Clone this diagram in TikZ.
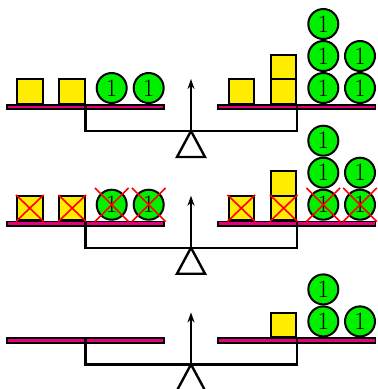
\documentclass[tikz,border=0pt]{standalone}
\usetikzlibrary{arrows.meta,shapes.misc,positioning}
\definecolor{panpink}{RGB}{230,0,126}
\definecolor{wtyellow}{RGB}{255,236,0}
\definecolor{wtgreen}{RGB}{0,240,0}

\begin{document}
\begin{tikzpicture}[x=1pt, y=-1pt,
pan/.style={draw, line width=1.8pt, fill=panpink, minimum width=157.5pt, minimum height=4.5pt, inner sep=0pt},
box/.style={draw, line width=2pt, fill=wtyellow, minimum width=25.5pt, minimum height=24.5pt, inner sep=0pt, outer sep=0pt},
unit/.style={draw, circle, line width=2pt, fill=wtgreen, minimum size=30pt, inner sep=0pt, font=\fontsize{25}{25}\selectfont},
beam/.style={line width=2.4pt},
crossed/.style={cross out, draw=red, line width=1.6pt, inner sep=0pt}]

\useasboundingbox (0,0) rectangle (378,389);

% the three balances
\foreach \n/\dy in {1/0, 2/116.7, 3/233.4} {
  \coordinate (piv\n) at (191,131+\dy);
  \node[pan] (lp\n) at (85.5,107+\dy) {};
  \node[pan] (rp\n) at (296.7,107+\dy) {};
  \draw[beam] (lp\n.north) |- (piv\n) -| (rp\n.north);
  \draw[beam] (piv\n) -- ++(-14,26) -- ++(28,0) -- cycle;
  \draw[beam, -{Stealth[length=10pt,width=7pt]}] (piv\n) -- ++(0,-52);
}

% weights, first and second balance
\foreach \n/\dy in {1/0, 2/116.7} {
  \node[box] (la\n) at (29.8,91.5+\dy) {};
  \node[box] (lb\n) at (72.2,91.5+\dy) {};
  \node[unit] (lc\n) at (111.7,88+\dy) {1};
  \node[unit] (ld\n) at (148.7,88+\dy) {1};
  \node[box] (ra\n) at (241.3,91.5+\dy) {};
  \node[box] (rb\n) at (283.7,91.5+\dy) {};
  \node[box] (rbt\n) [above=0pt of rb\n] {};
  \node[unit] (rc\n) at (323.3,88+\dy) {1};
  \node[unit] (rcm\n) at (323.3,56+\dy) {1};
  \node[unit] (rct\n) at (323.3,24+\dy) {1};
  \node[unit] (rd\n) at (360,88+\dy) {1};
  \node[unit] (rdm\n) at (360,56+\dy) {1};
}

% crossed out on the second balance
\foreach \w in {la2, lb2, ra2, rb2}
  \node[crossed, minimum width=26pt, minimum height=25pt] at (\w) {};
\foreach \w in {lc2, ld2, rc2, rd2}
  \node[crossed, minimum size=32pt] at (\w) {};

% third balance
\node[box] (rb3) at (283.7,324.9) {};
\node[unit] (rc3) at (323.3,321.4) {1};
\node[unit] (rcm3) at (323.3,289.4) {1};
\node[unit] (rd3) at (360,321.4) {1};

\end{tikzpicture}
\end{document}
